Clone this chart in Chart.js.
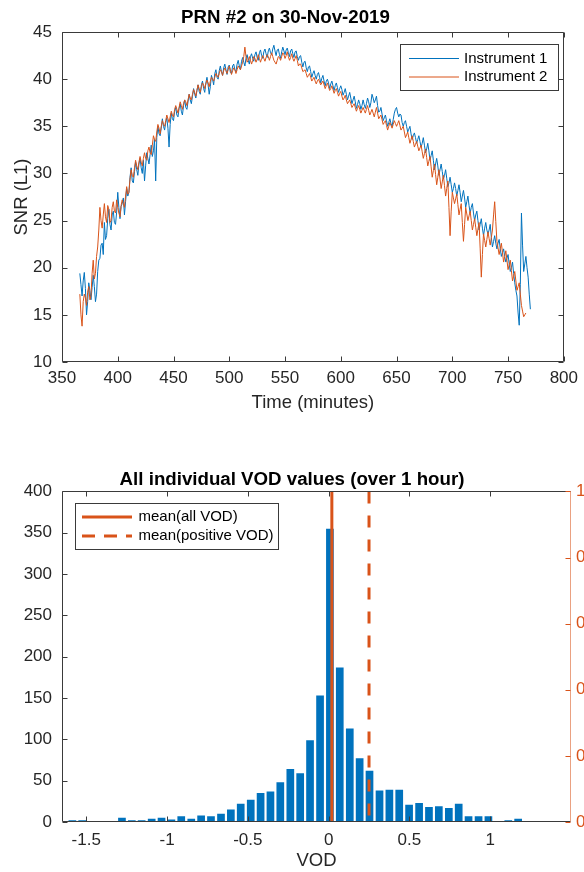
<!DOCTYPE html>
<html lang="en">
<head>
    <meta charset="UTF-8">
    <title>PRN #2 SNR and VOD histogram</title>
    <script src="https://cdn.jsdelivr.net/npm/chart.js"></script>
    <style>
        html, body { margin: 0; padding: 0; background: #fff; overflow: hidden; }
        .panel { position: relative; width: 584px; height: 436px; }
    </style>
</head>
<body>
    <!-- top: SNR time series -->
    <div class="panel"><canvas id="snrChart"></canvas></div>
    <!-- bottom: VOD histogram -->
    <div class="panel"><canvas id="vodChart"></canvas></div>

    <script>
        // sample times (minutes), shared by both instruments
        const timeMin = [
            366,367,368,369,370,371,372,373,374,375,376,377,378,379,380,381,382,383,384,385,
            386,387,388,389,390,391,392,393,394,395,396,397,398,399,400,401,402,403,404,405,
            406,407,408,409,410,411,412,413,414,415,416,417,418,419,420,421,422,423,424,425,
            426,427,428,429,430,431,432,433,434,435,436,437,438,439,440,441,442,443,444,445,
            446,447,448,449,450,451,452,453,454,455,456,457,458,459,460,461,462,463,464,465,
            466,467,468,469,470,471,472,473,474,475,476,477,478,479,480,481,482,483,484,485,
            486,487,488,489,490,491,492,493,494,495,496,497,498,499,500,501,502,503,504,505,
            506,507,508,509,510,511,512,513,514,515,516,517,518,519,520,521,522,523,524,525,
            526,527,528,529,530,531,532,533,534,535,536,537,538,539,540,541,542,543,544,545,
            546,547,548,549,550,551,552,553,554,555,556,557,558,559,560,561,562,563,564,565,
            566,567,568,569,570,571,572,573,574,575,576,577,578,579,580,581,582,583,584,585,
            586,587,588,589,590,591,592,593,594,595,596,597,598,599,600,601,602,603,604,605,
            606,607,608,609,610,611,612,613,614,615,616,617,618,619,620,621,622,623,624,625,
            626,627,628,629,630,631,632,633,634,635,636,637,638,639,640,641,642,643,644,645,
            646,647,648,649,650,651,652,653,654,655,656,657,658,659,660,661,662,663,664,665,
            666,667,668,669,670,671,672,673,674,675,676,677,678,679,680,681,682,683,684,685,
            686,687,688,689,690,691,692,693,694,695,696,697,698,699,700,701,702,703,704,705,
            706,707,708,709,710,711,712,713,714,715,716,717,718,719,720,721,722,723,724,725,
            726,727,728,729,730,731,732,733,734,735,736,737,738,739,740,741,742,743,744,745,
            746,747,748,749,750,751,752,753,754,755,756,757,758,759,760,761,762,763,764,765,
            766,767,768,769,770
        ];

        // SNR (L1), instrument 1, one value per minute
        const snrInst1 = [
            19.4,18.2,17.0,18.6,19.5,17.8,15.0,16.4,18.4,17.6,
            16.6,17.9,19.2,18.0,16.4,17.2,19.6,20.8,21.0,22.4,
            22.6,21.4,24.8,23.0,23.4,25.2,26.2,24.6,24.0,25.6,
            26.0,24.8,24.6,25.9,28.0,26.4,25.2,26.5,26.8,27.4,
            25.6,27.0,28.4,27.6,28.0,29.6,30.6,29.2,29.0,30.2,
            31.2,30.4,29.8,31.0,31.6,30.6,30.0,31.4,29.2,30.8,
            32.2,31.6,31.0,32.0,33.0,31.8,32.4,33.6,29.2,33.8,
            35.0,34.2,34.0,34.8,35.8,35.0,34.6,35.4,35.9,34.8,
            32.8,35.2,36.4,35.8,35.6,36.6,37.0,36.2,36.0,36.9,
            37.4,36.6,36.2,37.2,37.8,37.0,36.8,37.6,38.4,37.8,
            37.4,38.2,39.0,38.4,38.0,38.8,39.4,38.7,38.4,39.4,
            39.8,39.0,38.6,39.6,40.2,39.4,38.4,39.2,40.4,40.0,
            39.4,40.6,41.0,40.2,40.0,40.9,41.4,40.8,40.4,41.2,
            41.6,41.0,40.5,41.3,41.5,40.7,40.6,41.4,41.6,41.0,
            40.8,41.6,42.0,41.4,41.0,41.9,42.3,41.8,41.4,42.2,
            42.6,42.0,41.6,42.4,42.7,42.2,41.9,42.6,42.9,42.3,
            42.0,42.8,43.1,42.5,42.2,42.9,43.2,42.7,42.3,43.0,
            43.3,42.8,42.6,43.2,43.6,43.0,42.5,43.1,43.2,42.6,
            42.2,42.9,43.4,43.0,42.6,43.1,43.3,42.8,42.4,43.0,
            43.2,42.7,42.3,42.9,43.0,42.4,42.0,42.4,42.5,41.8,
            41.3,41.8,41.9,41.2,40.8,41.3,41.4,40.8,40.2,40.6,
            40.9,40.4,40.0,40.5,40.7,40.2,39.6,40.1,40.4,39.8,
            39.3,39.8,40.0,39.6,39.0,39.5,39.8,39.3,38.8,39.3,
            39.6,39.1,38.6,39.0,39.3,38.9,38.3,38.6,39.0,38.4,
            37.8,38.2,38.6,38.0,37.4,37.8,38.2,37.6,36.9,37.3,
            37.8,37.4,36.8,37.2,37.8,37.3,36.9,37.4,38.0,37.6,
            37.0,37.5,38.4,38.0,37.5,37.8,38.2,37.2,36.5,36.6,
            37.0,36.3,35.6,35.9,36.2,35.6,35.0,35.4,35.8,35.3,
            35.0,35.7,36.4,36.8,37.0,36.4,36.0,36.3,36.2,35.4,
            35.0,35.4,35.6,35.0,34.4,34.7,35.0,34.2,33.6,34.0,
            34.3,33.8,33.2,33.6,34.0,33.4,32.8,33.2,33.8,33.0,
            32.2,32.6,33.2,32.4,31.4,31.9,32.4,31.4,30.4,31.0,
            31.6,30.8,29.8,30.4,31.0,30.2,29.4,29.8,30.4,29.5,
            28.6,29.0,29.6,28.8,28.0,28.4,29.0,28.4,27.6,28.2,
            28.8,28.0,27.0,27.6,28.2,27.4,26.4,27.0,27.6,26.6,
            25.8,26.4,26.8,25.8,25.0,25.6,26.0,25.0,24.0,24.6,
            25.2,24.2,23.4,24.2,24.8,24.0,23.6,24.0,24.6,23.2,
            22.2,22.8,23.4,22.6,22.0,22.6,23.0,22.0,21.2,21.6,
            22.0,21.2,20.6,21.0,21.4,20.4,19.6,20.0,20.6,19.4,
            18.4,17.6,17.0,15.2,13.9,18.2,25.8,22.4,19.6,20.4,
            21.2,20.0,19.0,17.2,15.6
        ];

        // SNR (L1), instrument 2, one value per minute (ends a little earlier)
        const snrInst2 = [
            17.2,15.0,13.8,16.4,17.2,16.8,16.0,17.4,18.0,16.6,
            17.0,19.4,20.8,18.8,19.4,21.2,22.2,24.0,26.4,25.0,
            24.2,25.6,26.8,25.4,24.8,26.6,26.2,24.8,25.0,26.4,
            27.0,26.0,25.8,27.2,26.4,25.8,25.4,26.6,27.2,26.8,
            26.4,27.6,28.6,27.8,28.0,29.4,30.4,29.8,29.6,30.6,
            31.4,30.8,30.4,31.2,31.8,31.2,30.8,31.6,32.2,31.6,
            31.4,32.4,32.8,32.2,32.0,33.0,34.0,33.6,33.4,34.4,
            35.2,34.8,34.2,35.0,35.6,35.2,35.0,35.6,36.2,35.8,
            35.4,36.0,36.6,36.2,36.0,36.8,37.2,36.8,36.4,37.0,
            37.6,37.2,36.8,37.4,37.8,37.6,37.2,37.8,38.4,38.0,
            37.8,38.4,38.9,38.6,38.2,38.8,39.4,39.0,38.6,39.2,
            39.6,39.4,39.0,39.5,39.9,39.6,39.2,39.8,40.2,40.0,
            39.8,40.2,40.6,40.4,40.2,40.6,41.0,40.8,40.4,40.9,
            41.2,40.9,40.6,41.0,41.4,41.0,40.5,40.9,41.2,41.0,
            40.6,41.0,41.4,41.2,41.0,41.4,41.8,42.4,43.4,42.4,
            41.8,42.0,42.4,42.0,41.6,42.0,42.4,42.2,41.8,42.1,
            42.6,42.2,41.8,42.2,42.5,42.2,41.9,42.3,42.6,42.4,
            42.0,42.4,42.8,42.4,42.0,41.8,41.6,42.0,42.4,42.3,
            42.0,42.4,42.8,42.6,42.2,42.5,42.9,42.4,42.0,42.3,
            42.7,42.2,41.9,42.2,42.5,42.0,41.4,41.6,41.6,41.2,
            40.8,40.9,41.0,40.6,40.2,40.4,40.6,40.2,39.8,40.0,
            40.2,39.8,39.5,39.8,40.0,39.7,39.4,39.6,39.8,39.4,
            39.0,39.3,39.6,39.2,38.8,39.0,39.3,38.9,38.5,38.8,
            39.0,38.6,38.2,38.5,38.7,38.2,37.8,38.0,38.3,37.8,
            37.4,37.6,37.8,37.4,37.0,37.2,37.4,37.0,36.6,36.9,
            37.2,36.8,36.4,36.7,37.0,36.7,36.4,36.8,37.2,36.7,
            36.2,36.5,36.8,36.4,36.0,36.5,37.0,36.4,35.8,36.0,
            36.2,35.7,35.2,35.4,35.6,35.1,34.6,35.0,35.4,35.1,
            34.8,35.2,35.6,35.3,35.0,35.3,35.6,35.1,34.6,34.8,
            35.0,34.4,33.8,34.1,34.4,33.8,33.2,33.6,34.0,33.4,
            32.8,33.1,33.4,32.9,32.4,32.7,33.0,32.3,31.6,32.1,
            32.6,31.7,30.8,31.3,31.8,30.7,29.6,30.3,31.0,29.9,
            28.8,29.6,30.4,29.4,28.4,29.1,29.8,28.7,27.6,28.4,
            29.2,26.4,23.4,26.0,28.0,27.4,26.8,27.3,27.8,26.7,
            25.6,26.2,26.8,24.8,22.8,24.6,26.4,25.7,25.0,25.5,
            26.0,25.0,24.0,24.6,25.2,24.3,23.4,24.1,24.8,22.0,
            19.0,21.4,23.6,22.9,22.2,23.0,23.8,23.1,22.4,23.2,
            24.0,25.6,27.0,24.9,22.8,22.1,21.4,22.0,22.6,21.6,
            20.6,21.2,21.8,20.8,19.8,20.3,20.8,19.7,18.6,19.1,
            19.6,18.6,17.6,18.0,18.4,17.2,16.0,15.4,14.8,15.0,
            15.2
        ];

        // VOD histogram: bin centres and counts
        const vodBinCenters = [
            -1.586,-1.525,-1.463,-1.402,-1.341,-1.279,-1.218,-1.157,-1.095,-1.034,
            -0.973,-0.912,-0.850,-0.789,-0.728,-0.666,-0.605,-0.544,-0.482,-0.421,
            -0.360,-0.299,-0.237,-0.176,-0.115,-0.053,0.008,0.069,0.131,0.192,
            0.253,0.315,0.376,0.437,0.498,0.560,0.621,0.682,0.744,0.805,
            0.866,0.928,0.989,1.050,1.112,1.173,1.234
        ];
        const vodCounts = [
            2,2,0,0,0,5,2,2,4,5,
            3,7,4,8,7,10,15,22,27,35,
            37,48,64,59,99,153,355,187,113,77,
            62,38,39,39,21,23,18,19,17,22,
            7,7,7,0,2,4,1
        ];
        const meanAllVod = 0.02;
        const meanPositiveVod = 0.25;
        const vodTicks = [-1.5, -1, -0.5, 0, 0.5, 1];

        const BLUE = '#0072BD';
        const ORANGE = '#D95319';
        const AXIS = '#3a3a3a';
        const FONT = '"Liberation Sans", Arial, Helvetica, sans-serif';

        Chart.defaults.font.family = FONT;
        Chart.defaults.color = '#262626';

        // MATLAB-like box: frame + inward ticks, and a boxed legend inside the axes
        const matlabAxes = {
            id: 'matlabAxes',
            afterDatasetsDraw(chart, args, opts) {
                const { ctx, chartArea: a } = chart;
                const L = Math.round(a.left) + 0.5, R = Math.round(a.right) - 0.5;
                const T = Math.round(a.top) + 0.5, B = Math.round(a.bottom) - 0.5;
                const len = 5;
                const seg = (x0, y0, x1, y1) => { ctx.beginPath(); ctx.moveTo(x0, y0); ctx.lineTo(x1, y1); ctx.stroke(); };
                ctx.save();
                ctx.lineWidth = 1;
                ctx.strokeStyle = AXIS;

                const xs = chart.scales.x;
                xs.ticks.forEach(t => {
                    const px = Math.round(xs.getPixelForValue(t.value)) + 0.5;
                    seg(px, B, px, B - len);
                    seg(px, T, px, T + len);
                });
                const ys = chart.scales.y;
                ys.ticks.forEach(t => {
                    const py = Math.round(ys.getPixelForValue(t.value)) + 0.5;
                    seg(L, py, L + len, py);
                    if (!chart.scales.y2) seg(R, py, R - len, py);
                });
                seg(L, T, R, T);
                seg(L, B, R, B);
                seg(L, T, L, B);

                if (chart.scales.y2) {
                    // right axis belongs to the orange mean lines
                    const y2 = chart.scales.y2;
                    ctx.strokeStyle = ORANGE;
                    y2.ticks.forEach(t => {
                        const py = Math.round(y2.getPixelForValue(t.value)) + 0.5;
                        seg(R, py, R - len, py);
                    });
                    ctx.strokeStyle = 'rgba(217,83,25,0.55)';
                }
                seg(R, T, R, B);
                ctx.restore();
            },
            afterDraw(chart, args, opts) {
                const o = opts.legend;
                if (!o) return;
                const ctx = chart.ctx;
                const items = chart.data.datasets.filter(ds => ds.inLegend);
                ctx.save();
                ctx.fillStyle = '#fff';
                ctx.fillRect(o.x, o.y, o.w, o.h);
                ctx.strokeStyle = AXIS;
                ctx.lineWidth = 1;
                ctx.strokeRect(o.x + 0.5, o.y + 0.5, o.w, o.h);
                ctx.font = o.fontSize + 'px ' + FONT;
                ctx.textBaseline = 'middle';
                items.forEach((ds, i) => {
                    const y = o.rows[i];
                    ctx.beginPath();
                    ctx.strokeStyle = ds.borderColor;
                    ctx.lineWidth = ds.legendWidth || ds.borderWidth;
                    ctx.setLineDash(ds.legendDash || []);
                    ctx.moveTo(o.lineFrom, y);
                    ctx.lineTo(o.lineTo, y);
                    ctx.stroke();
                    ctx.setLineDash([]);
                    ctx.fillStyle = '#000';
                    ctx.fillText(ds.label, o.textX, y);
                });
                ctx.restore();
            }
        };

        const tickFont = { size: 17 };
        const labelFont = { size: 18.5 };
        const noGrid = { display: false, drawTicks: false };

        // top chart
        new Chart(document.getElementById('snrChart'), {
            type: 'line',
            data: {
                datasets: [
                    {
                        label: 'Instrument 1',
                        data: snrInst1.map((v, i) => ({ x: timeMin[i], y: v })),
                        borderColor: BLUE, borderWidth: 1, pointRadius: 0, tension: 0,
                        order: 1, inLegend: true
                    },
                    {
                        label: 'Instrument 2',
                        data: snrInst2.map((v, i) => ({ x: timeMin[i], y: v })),
                        borderColor: ORANGE, borderWidth: 1, pointRadius: 0, tension: 0,
                        order: 0, inLegend: true
                    }
                ]
            },
            options: {
                responsive: true,
                maintainAspectRatio: false,
                animation: false,
                devicePixelRatio: 1,
                layout: { padding: { top: 0, right: 13, bottom: 0, left: 0 } },
                plugins: {
                    legend: { display: false },
                    tooltip: { enabled: false },
                    title: {
                        display: true,
                        text: 'PRN #2 on 30-Nov-2019',
                        color: '#000',
                        font: { size: 18.7, weight: 'bold' },
                        padding: { top: 7, bottom: 2.6 }
                    },
                    matlabAxes: {
                        legend: { x: 400, y: 44, w: 158, h: 46, rows: [58.5, 77], lineFrom: 409, lineTo: 459, textX: 464, fontSize: 15 }
                    }
                },
                scales: {
                    x: {
                        type: 'linear', min: 350, max: 800,
                        ticks: { stepSize: 50, padding: 6, font: tickFont, maxRotation: 0, autoSkip: false },
                        grid: noGrid, border: { display: false },
                        title: { display: true, text: 'Time (minutes)', color: '#262626', font: labelFont, padding: { top: 0, bottom: 22 } },
                        afterFit: s => { s.height = 74; }
                    },
                    y: {
                        min: 10, max: 45,
                        ticks: { stepSize: 5, padding: 10, font: tickFont },
                        grid: noGrid, border: { display: false },
                        title: { display: true, text: 'SNR (L1)', color: '#262626', font: labelFont, padding: { top: 11, bottom: 0 } },
                        afterFit: s => { s.width = 62; }
                    }
                }
            },
            plugins: [matlabAxes]
        });

        // bottom chart
        new Chart(document.getElementById('vodChart'), {
            type: 'bar',
            data: {
                datasets: [
                    {
                        type: 'line',
                        label: 'mean(all VOD)',
                        data: [{ x: meanAllVod, y: 1 }, { x: meanAllVod, y: 0 }],
                        yAxisID: 'y2',
                        borderColor: ORANGE, borderWidth: 3, pointRadius: 0,
                        order: 0, inLegend: true
                    },
                    {
                        type: 'line',
                        label: 'mean(positive VOD)',
                        data: [{ x: meanPositiveVod, y: 1 }, { x: meanPositiveVod, y: 0 }],
                        yAxisID: 'y2',
                        borderColor: ORANGE, borderWidth: 3, borderDash: [12, 12], pointRadius: 0,
                        legendDash: [13, 9],
                        order: 1, inLegend: true
                    },
                    {
                        label: 'VOD',
                        data: vodBinCenters.map((c, i) => ({ x: c, y: vodCounts[i] })),
                        backgroundColor: BLUE,
                        borderWidth: 0,
                        barPercentage: 0.78,
                        categoryPercentage: 1,
                        order: 2
                    }
                ]
            },
            options: {
                responsive: true,
                maintainAspectRatio: false,
                animation: false,
                devicePixelRatio: 1,
                layout: { padding: 0 },
                plugins: {
                    legend: { display: false },
                    tooltip: { enabled: false },
                    title: {
                        display: true,
                        text: 'All individual VOD values (over 1 hour)',
                        color: '#000',
                        font: { size: 18.7, weight: 'bold' },
                        padding: { top: 32.6, bottom: 0.4 }
                    },
                    matlabAxes: {
                        legend: { x: 75, y: 67, w: 203, h: 46, rows: [81, 100], lineFrom: 82, lineTo: 132, textX: 138.5, fontSize: 15 }
                    }
                },
                scales: {
                    x: {
                        type: 'linear', min: -1.65, max: 1.5, offset: false,
                        afterBuildTicks: s => { s.ticks = vodTicks.map(v => ({ value: v })); },
                        ticks: { padding: 8, font: tickFont, maxRotation: 0, autoSkip: false, callback: v => String(v) },
                        grid: noGrid, border: { display: false },
                        title: { display: true, text: 'VOD', color: '#262626', font: labelFont, padding: { top: 0, bottom: 0 } },
                        afterFit: s => { s.height = 50; }
                    },
                    y: {
                        min: 0, max: 400,
                        ticks: { stepSize: 50, padding: 10, font: tickFont },
                        grid: noGrid, border: { display: false },
                        afterFit: s => { s.width = 62; }
                    },
                    y2: {
                        position: 'right', min: 0, max: 1,
                        ticks: { stepSize: 0.2, padding: 5, font: tickFont, color: ORANGE },
                        grid: noGrid, border: { display: false },
                        afterFit: s => { s.width = 13; }
                    }
                }
            },
            plugins: [matlabAxes]
        });
    </script>
</body>
</html>
